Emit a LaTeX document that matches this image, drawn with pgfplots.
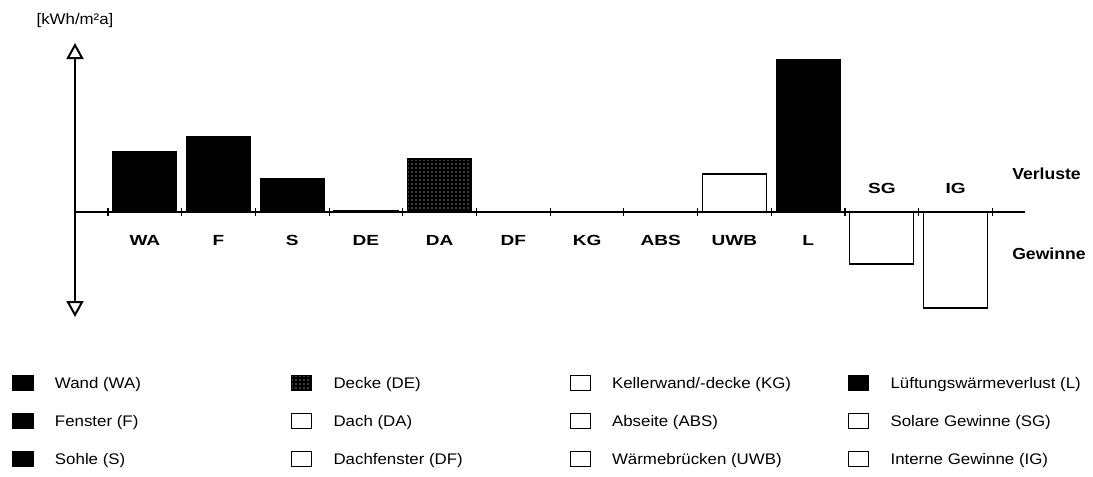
\documentclass[border=0pt]{standalone}
\usepackage{fontspec}
\setmainfont{Liberation Sans}
\newfontfamily\tickfont{Liberation Sans}[FakeStretch=1.3]
\newfontfamily\legfont{Liberation Sans}[FakeStretch=1.1]
\usepackage{pgfplots}
\pgfplotsset{compat=1.18}
\usetikzlibrary{arrows.meta,patterns}
\newcommand{\LE}[1]{\makebox[177pt][l]{#1}}
\begin{document}
\begin{tikzpicture}
\path[use as bounding box] (-56.25pt,-119.25pt) rectangle (763.5pt,237.75pt);
\begin{axis}[
  scale only axis, width=712.5pt, height=205.5pt,
  xmin=-0.948, xmax=11.942, ymin=-105, ymax=169,
  axis x line=middle, axis y line=left,
  axis on top, clip=false,
  x axis line style={-, line width=1.5pt},
  y axis line style={<->, >={Triangle[open,length=12pt,width=12.75pt]}, line width=1.5pt},
  ytick=\empty,
  xtick={0,...,9},
  xticklabels={WA,F,S,DE,DA,DF,KG,ABS,UWB,L},
  extra x ticks={10,11}, extra x tick labels={SG,IG},
  extra x tick style={xticklabel style={yshift=39pt}},
  minor xtick={-0.5,0.5,...,11.5},
  major tick length=0pt, minor tick length=6pt,
  tick align=center,
  minor tick style={line width=0.8pt, black},
  xticklabel style={anchor=center, yshift=-21pt, text height=7.9pt, text depth=0pt, font=\tickfont\bfseries\fontsize{11}{12}\selectfont},
  legend columns=4,
  legend cell align=left,
  legend image code/.code={\draw[line width=0.8pt, draw=black, #1] (0pt,-5.6pt) rectangle (15pt,5.6pt);
    \pgfpathrectangle{\pgfpoint{0pt}{-1pt}}{\pgfpoint{31.5pt}{2pt}}\pgfusepath{use as bounding box}},
  legend style={at={(0,0)}, anchor=north west, xshift=-46.9pt, yshift=-43.5pt, draw=none, fill=none, inner sep=0pt, outer sep=0pt, column sep=0pt, row sep=16.5pt, font=\legfont\fontsize{11.5}{13}\selectfont, nodes={inner sep=0pt, outer sep=0pt, text height=9.5pt, text depth=1.3pt}},
]
\addplot[ybar, bar width=48pt, bar shift=0pt, fill=black, draw=black, line width=0.8pt, forget plot] coordinates {(0,60) (1,75) (2,33) (9,152)};
\addplot[ybar, bar width=48pt, bar shift=0pt, fill=black, draw=black, line width=0.8pt, postaction={pattern=dots, pattern color=white}, forget plot] coordinates {(4,53)};
\addplot[ybar, bar width=48pt, bar shift=0pt, fill=white, draw=black, line width=0.8pt, forget plot] coordinates {(3,1.5) (8,38) (10,-52) (11,-96)};

\addlegendimage{fill=black}\addlegendentry{\LE{Wand (WA)}}
\addlegendimage{fill=black, postaction={pattern=dots, pattern color=white}}\addlegendentry{\LE{Decke (DE)}}
\addlegendimage{fill=white}\addlegendentry{\LE{Kellerwand/-decke (KG)}}
\addlegendimage{fill=black}\addlegendentry{Lüftungswärmeverlust (L)}
\addlegendimage{fill=black}\addlegendentry{\LE{Fenster (F)}}
\addlegendimage{fill=white}\addlegendentry{\LE{Dach (DA)}}
\addlegendimage{fill=white}\addlegendentry{\LE{Abseite (ABS)}}
\addlegendimage{fill=white}\addlegendentry{Solare Gewinne (SG)}
\addlegendimage{fill=black}\addlegendentry{\LE{Sohle (S)}}
\addlegendimage{fill=white}\addlegendentry{\LE{Dachfenster (DF)}}
\addlegendimage{fill=white}\addlegendentry{\LE{Wärmebrücken (UWB)}}
\addlegendimage{fill=white}\addlegendentry{Interne Gewinne (IG)}
\end{axis}
\node[anchor=west, inner sep=0pt, font=\legfont\bfseries\fontsize{12}{14}\selectfont] at (702.75pt,107.25pt) {Verluste};
\node[anchor=west, inner sep=0pt, font=\legfont\bfseries\fontsize{12}{14}\selectfont] at (702.75pt,47.25pt) {Gewinne};
\node[inner sep=0pt, font=\legfont\fontsize{11.5}{13}\selectfont] at (0pt,222pt) {[kWh/m²a]};
\end{tikzpicture}
\end{document}
